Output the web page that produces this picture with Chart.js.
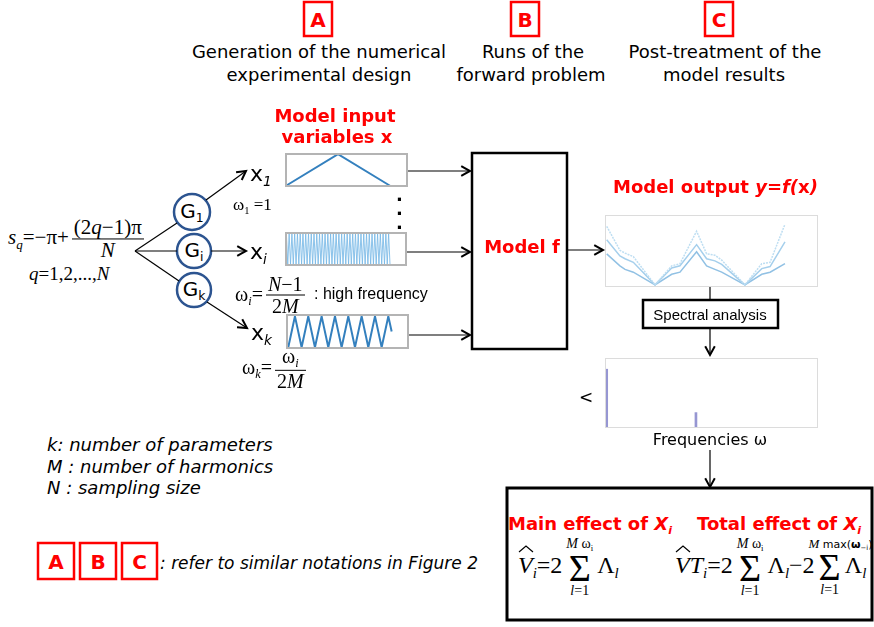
<!DOCTYPE html>
<html>
<head>
<meta charset="utf-8">
<script src="https://cdn.jsdelivr.net/npm/chart.js@4.4.0/dist/chart.umd.min.js"></script>
<style>
body { margin: 0; background: #fff; }
#stage { position: relative; width: 874px; height: 627px; overflow: hidden; font-family: "DejaVu Sans"; color: #000; }
.t { position: absolute; white-space: nowrap; line-height: 1; }
.red { color: #f00; font-weight: bold; }
.m { font-family: "Liberation Serif"; }
.frame { position: absolute; box-sizing: border-box; border: 2px solid #b4b4b4; }
.soft { border: 1.5px solid #dcdcdc; }
.fr { display: inline-flex; flex-direction: column; text-align: center; vertical-align: middle; margin: 0 3px; }
.fr > span { padding: 0 2px; line-height: 1.05; }
.fr > span:first-child { border-bottom: 1px solid #000; }
.row { display: flex; align-items: center; }
.sum { display: inline-flex; flex-direction: column; align-items: center; margin: 0 4px; }
.lim { font-size: 14px; line-height: 1.1; }
.sg { font-size: 38px; line-height: 0.78; }
sub { font-size: 62%; vertical-align: -0.35em; }
</style>
</head>
<body>
<div id="stage">
<svg id="ink" width="874" height="627" style="position:absolute;left:0;top:0"></svg>
</div>
<script>
// signals of the three input variables (time axis, value)
var x1Time = [0, 0.5, 1];
var x1Values = [0, 1, 0];

var xiValues = [0,1,0,1,0,1,0,1,0,1,0,1,0,1,0,1,0,1,0,1,0,1,0,1,0,1,0,1,0,1,0,1,0,1,0,1,0,1,
                0,1,0,1,0,1,0,1,0,1,0,1,0,1,0,1,0,1,0,1,0,1,0,1,0,1,0,1,0,1,0,1,0,1,0,1,0,1,0];

var xkTime = [0, 0.5, 1, 1.5, 2, 2.5, 3, 3.5, 4, 4.5, 5, 5.5, 6, 6.5, 7, 7.5, 7.75];
var xkValues = [0.03, 0.95, 0.03, 0.95, 0.03, 0.95, 0.03, 0.95, 0.03, 0.95, 0.03, 0.95, 0.03, 0.95, 0.03, 0.95, 0.5];

// model output y = f(x), three runs
var outX = [0.008, 0.07, 0.094, 0.133, 0.235, 0.313, 0.352, 0.43, 0.477, 0.516, 0.548, 0.657, 0.736, 0.775, 0.845];
var outTop = [0.84, 0.50, 0.46, 0.41, 0.01, 0.28, 0.31, 0.77, 0.45, 0.43, 0.36, 0.01, 0.31, 0.33, 0.87];
var outMid = [0.65, 0.42, 0.38, 0.33, 0.01, 0.25, 0.28, 0.58, 0.38, 0.35, 0.30, 0.01, 0.24, 0.27, 0.62];
var outLow = [0.45, 0.28, 0.23, 0.19, 0.01, 0.16, 0.19, 0.48, 0.28, 0.23, 0.19, 0.01, 0.16, 0.19, 0.31];

// spectrum
var specFreq = [0.008, 0.427];
var specAmp = [0.84, 0.22];

var stage = document.getElementById('stage');
var ink = document.getElementById('ink');
var NS = 'http://www.w3.org/2000/svg';

function put(html, x, y, css, anchor) {
  var d = document.createElement('div');
  d.className = 't ' + (css || '');
  d.innerHTML = html;
  d.style.left = x + 'px';
  d.style.top = y + 'px';
  d.style.transform = anchor == 'c' ? 'translate(-50%,-50%)' : 'translate(0,-50%)';
  stage.appendChild(d);
  return d;
}

function svg(tag, attrs) {
  var e = document.createElementNS(NS, tag);
  for (var k in attrs) e.setAttribute(k, attrs[k]);
  ink.appendChild(e);
  return e;
}

function line(x1, y1, x2, y2, w) {
  svg('line', {x1: x1, y1: y1, x2: x2, y2: y2, stroke: '#000', 'stroke-width': w || 1.2});
}

function arrow(x1, y1, x2, y2, w) {
  line(x1, y1, x2, y2, w);
  var a = Math.atan2(y2 - y1, x2 - x1), L = 10, s = 0.5;
  var p = [x2 - L * Math.cos(a - s), y2 - L * Math.sin(a - s), x2, y2,
           x2 - L * Math.cos(a + s), y2 - L * Math.sin(a + s)];
  svg('polyline', {points: p.join(','), fill: 'none', stroke: '#000', 'stroke-width': 2});
}

function rect(x, y, w, h, col, sw) {
  svg('rect', {x: x, y: y, width: w, height: h, fill: 'none', stroke: col, 'stroke-width': sw});
}

function plot(left, top, w, h, type, datasets, xr, yr, frameCls) {
  var c = document.createElement('canvas');
  c.width = w; c.height = h;
  c.style.cssText = 'position:absolute;left:' + left + 'px;top:' + top + 'px;';
  stage.appendChild(c);
  var f = document.createElement('div');
  f.className = 'frame ' + (frameCls || '');
  f.style.cssText = 'left:' + left + 'px;top:' + top + 'px;width:' + w + 'px;height:' + h + 'px;';
  stage.appendChild(f);
  return new Chart(c, {
    type: type,
    data: {datasets: datasets},
    options: {
      responsive: false, animation: false, events: [],
      layout: {padding: 0},
      plugins: {legend: {display: false}, tooltip: {enabled: false}},
      elements: {point: {radius: 0}, line: {tension: 0}},
      scales: {
        x: {type: 'linear', display: false, offset: false, min: xr[0], max: xr[1]},
        y: {display: false, min: yr[0], max: yr[1]}
      }
    }
  });
}

function pairs(xs, ys) { return ys.map(function (v, i) { return {x: xs[i], y: v}; }); }

// ---- input signal charts
var sigBlue = 'rgb(52,128,190)';
plot(285, 153, 123, 34, 'line', [{data: pairs(x1Time, x1Values), borderColor: sigBlue, borderWidth: 2}], [-0.01, 1.173], [-0.04, 1.04]);
plot(285, 232, 122, 34, 'line', [{data: xiValues.map(function (v, i) { return {x: i, y: v}; }),
  borderColor: 'rgba(120,185,230,0.85)', borderWidth: 1}], [0, 88.3], [-0.05, 1.05]);
plot(286, 314, 123, 35, 'line', [{data: pairs(xkTime, xkValues), borderColor: sigBlue, borderWidth: 2}], [-0.17, 9.05], [-0.02, 1.02]);

// ---- model output & spectrum
plot(605, 215, 213, 72, 'line', [
  {data: pairs(outX, outTop), borderColor: 'rgb(190,222,242)', borderWidth: 1.5, borderDash: [2, 1]},
  {data: pairs(outX, outMid), borderColor: 'rgb(165,207,236)', borderWidth: 1.5},
  {data: pairs(outX, outLow), borderColor: 'rgb(145,193,228)', borderWidth: 1.5}
], [0, 1], [-0.02, 1.0], 'soft');

plot(605, 358, 213, 70, 'bar', [{data: pairs(specFreq, specAmp), backgroundColor: 'rgb(150,150,210)', barThickness: 2}],
  [0, 1], [0, 1], 'soft');

// ---- boxes
var RED = '#f00';
rect(304, 2, 28, 34, RED, 2.5); rect(511, 2, 28, 34, RED, 2.5); rect(705, 2, 28, 34, RED, 2.5);
rect(38, 543, 36, 36, RED, 2.5); rect(80, 543, 36, 36, RED, 2.5); rect(122, 543, 35, 36, RED, 2.5);
rect(472, 153, 95, 196, '#000', 2.5);
rect(643, 300, 135, 28, '#000', 2.5);
rect(507, 488, 365, 132, '#000', 3);

// ---- G circles
var circ = '#2c5490';
svg('circle', {cx: 192, cy: 212, r: 18, fill: 'none', stroke: circ, 'stroke-width': 2.5});
svg('circle', {cx: 194, cy: 251, r: 17, fill: 'none', stroke: circ, 'stroke-width': 2.5});
svg('circle', {cx: 194, cy: 290, r: 17, fill: 'none', stroke: circ, 'stroke-width': 2.5});

// ---- lines and arrows
line(135, 251, 177, 223);
line(135, 251, 177, 251);
line(135, 251, 179, 281);
arrow(206, 200, 246, 171);
arrow(211, 251, 246, 251);
arrow(207, 302, 247, 328);
arrow(408, 171, 470, 171);
arrow(407, 252, 470, 252);
arrow(409, 335, 470, 335);
arrow(568, 250, 603, 250);
line(710, 287, 710, 300);
arrow(710, 328, 710, 355);
arrow(710, 450, 710, 487);

// hats over V
svg('polyline', {points: '519,552 526,546 533,552', fill: 'none', stroke: '#000', 'stroke-width': 1.2});
svg('polyline', {points: '676,552 683,546 690,552', fill: 'none', stroke: '#000', 'stroke-width': 1.2});

// ---- header texts
put('A', 318, 20, 'red', 'c').style.fontSize = '20px';
put('B', 525, 20, 'red', 'c').style.fontSize = '20px';
put('C', 719, 20, 'red', 'c').style.fontSize = '20px';
[['Generation of the numerical', 319, 52], ['experimental design', 319, 75],
 ['Runs of the', 533, 52], ['forward problem', 531, 75],
 ['Post-treatment of the', 725, 52], ['model results', 724, 75]].forEach(function (h) {
  put(h[0], h[1], h[2], '', 'c').style.fontSize = '18px';
});

put('Model input', 335, 116, 'red', 'c').style.fontSize = '18px';
put('variables x', 337, 137, 'red', 'c').style.fontSize = '18px';
put('Model f', 522, 247, 'red', 'c').style.fontSize = '18px';
put('Model output <i>y=f(</i>x<i>)</i>', 613, 187, 'red').style.fontSize = '18px';

// G labels
['G<sub>1</sub>', 'G<sub>i</sub>', 'G<sub>k</sub>'].forEach(function (g, i) {
  put(g, [192, 194, 194][i], [213, 252, 291][i], '', 'c').style.fontSize = '20px';
});

// x labels
put('x<sub><i>1</i></sub>', 250, 176).style.fontSize = '22px';
put('x<sub><i>i</i></sub>', 250, 254).style.fontSize = '22px';
put('x<sub><i>k</i></sub>', 251, 335).style.fontSize = '22px';

// vertical dots
put('.<br>.<br>.', 396, 209).style.cssText += 'font-size:18px;font-weight:bold;line-height:14px;';

// formulas (serif)
function frac(n, d) { return '<span class="fr"><span>' + n + '</span><span>' + d + '</span></span>'; }
function sum(up, low, upCss) {
  return '<span class="sum"><span class="lim" style="' + (upCss || '') + '">' + up + '</span><span class="sg">Σ</span><span class="lim">' + low + '</span></span>';
}
put('<div class="row"><span><i>s</i><sub><i>q</i></sub>=−π+</span>' + frac('(2<i>q</i>−1)π', '<i>N</i>') + '</div>', 8, 239, 'm').style.fontSize = '21px';
put('<i>q</i>=1,2,...,<i>N</i>', 29, 273, 'm').style.fontSize = '19px';
put('ω<sub>1</sub> =1', 233, 206, 'm').style.fontSize = '17px';
put('<div class="row"><span>ω<sub><i>i</i></sub>=</span>' + frac('<i>N</i>−1', '2<i>M</i>') + '</div>', 235, 295, 'm').style.fontSize = '20px';
put(': high frequency', 314, 294).style.cssText += 'font-family:"Liberation Sans";font-size:16px;';
put('<div class="row"><span>ω<sub><i>k</i></sub>=</span>' + frac('ω<sub><i>i</i></sub>', '2<i>M</i>') + '</div>', 242, 369, 'm').style.fontSize = '20px';

// right column texts
put('Spectral analysis', 710, 314, '', 'c').style.cssText += 'font-family:"Liberation Sans";font-size:15px;';
put('&lt;', 586, 397, '', 'c').style.fontSize = '17px';
put('Frequencies ω', 710, 440, '', 'c').style.fontSize = '16px';

put('Main effect of <i>X<sub>i</sub></i>', 508, 526, 'red').style.fontSize = '18px';
put('Total effect of <i>X<sub>i</sub></i>', 697, 526, 'red').style.fontSize = '18px';

// estimators
var upW = '<i>M</i> ω<sub>i</sub>';
var upMax = '<i>M</i> <span style="font-family:\'DejaVu Sans\';font-size:11px">max(<b>ω</b><sub>−i</sub>)</span>';
put('<div class="row"><span><i>V</i><sub><i>i</i></sub>=2</span>' + sum(upW, '<i>l</i>=1') +
    '<span>Λ<sub><i>l</i></sub></span></div>', 518, 567, 'm').style.fontSize = '24px';
put('<div class="row"><span><i>VT</i><sub><i>i</i></sub>=2</span>' + sum(upW, '<i>l</i>=1') +
    '<span>Λ<sub><i>l</i></sub>−2</span>' +
    sum(upMax, '<i>l</i>=1', 'align-self:flex-start;width:0;margin-left:-10px;font-size:13px') +
    '<span>Λ<sub><i>l</i></sub></span></div>', 675, 567, 'm').style.fontSize = '24px';

// legend texts
put('<i>k: number of parameters</i>', 47, 445).style.fontSize = '18px';
put('<i>M : number of harmonics</i>', 47, 467).style.fontSize = '18px';
put('<i>N : sampling size</i>', 47, 488).style.fontSize = '18px';
put('A', 56, 562, 'red', 'c').style.fontSize = '20px';
put('B', 98, 562, 'red', 'c').style.fontSize = '20px';
put('C', 139.5, 562, 'red', 'c').style.fontSize = '20px';
put('<i>: refer to similar notations in Figure 2</i>', 160, 563).style.fontSize = '17px';
</script>
</body>
</html>
